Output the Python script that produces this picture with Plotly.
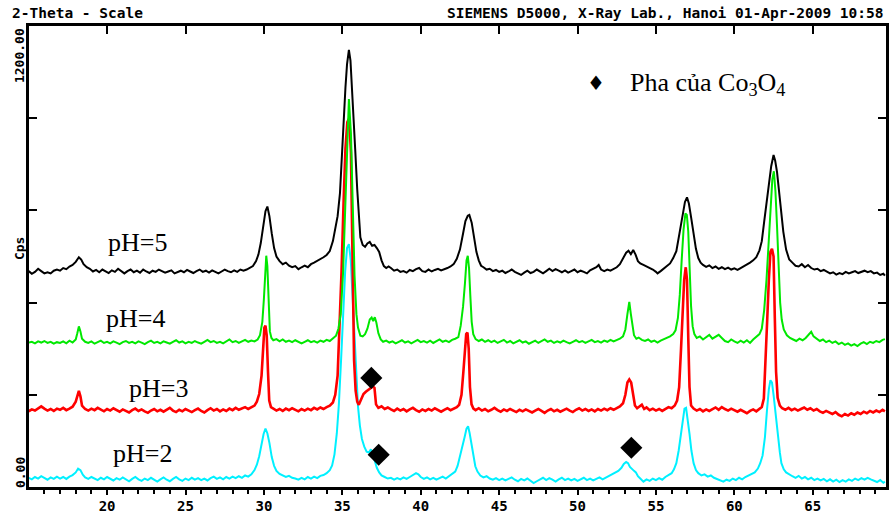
import plotly.graph_objects as go

# ---------------- data ----------------
theta_ph5 = [15.0,15.2,15.4,15.6,15.8,16.0,16.2,16.4,16.6,16.8,17.0,17.2,17.4,17.6,17.8,18.0,18.2,18.35,18.5,18.7,18.9,19.1,19.3,19.5,19.7,19.9,20.1,20.3,20.5,20.7,20.9,21.1,21.3,21.5,21.7,21.9,22.1,22.3,22.5,22.7,22.9,23.1,23.3,23.5,23.7,23.9,24.1,24.3,24.5,24.7,24.9,25.1,25.3,25.5,25.7,25.9,26.1,26.3,26.5,26.7,26.9,27.1,27.3,27.5,27.7,27.9,28.1,28.3,28.5,28.7,28.9,29.1,29.3,29.5,29.65,29.8,29.95,30.1,30.22,30.35,30.5,30.65,30.8,31.0,31.2,31.4,31.6,31.8,32.0,32.2,32.4,32.6,32.8,33.0,33.2,33.4,33.6,33.8,34.0,34.2,34.4,34.55,34.7,34.85,35.0,35.1,35.2,35.3,35.42,35.52,35.62,35.72,35.82,35.95,36.05,36.15,36.3,36.45,36.6,36.75,36.9,37.05,37.2,37.35,37.5,37.65,37.8,37.95,38.1,38.3,38.5,38.7,38.9,39.1,39.3,39.5,39.7,39.9,40.1,40.3,40.5,40.7,40.9,41.1,41.3,41.5,41.7,41.9,42.1,42.3,42.5,42.7,42.85,43.0,43.1,43.25,43.4,43.55,43.7,43.85,44.0,44.2,44.4,44.6,44.8,45.0,45.2,45.4,45.6,45.8,46.0,46.2,46.4,46.6,46.8,47.0,47.2,47.4,47.6,47.8,48.0,48.2,48.4,48.6,48.8,49.0,49.2,49.4,49.6,49.8,50.0,50.2,50.4,50.6,50.8,51.0,51.2,51.35,51.5,51.7,51.9,52.1,52.3,52.5,52.7,52.9,53.1,53.25,53.4,53.55,53.7,53.85,54.0,54.2,54.4,54.6,54.8,55.0,55.1,55.3,55.5,55.7,55.9,56.1,56.3,56.5,56.7,56.85,56.98,57.1,57.25,57.4,57.55,57.7,57.85,58.0,58.2,58.4,58.6,58.8,59.0,59.2,59.4,59.6,59.8,60.0,60.2,60.4,60.6,60.8,61.0,61.2,61.4,61.6,61.75,61.9,62.05,62.2,62.35,62.5,62.6,62.72,62.85,62.98,63.12,63.3,63.5,63.7,63.9,64.1,64.3,64.5,64.7,64.9,65.1,65.3,65.5,65.7,65.9,66.1,66.3,66.5,66.7,66.9,67.1,67.3,67.5,67.7,67.9,68.1,68.3,68.5,68.7,68.9,69.1,69.3,69.5,69.6]
cps_ph5 = [562,555,560,568,562,556,559,556,563,566,563,570,567,574,578,586,598,592,580,572,568,561,565,559,566,562,557,564,560,568,561,556,562,566,559,563,558,566,561,557,563,560,566,562,558,561,564,556,560,563,559,565,561,557,562,566,560,563,558,564,560,556,561,566,562,559,564,560,566,563,566,570,575,588,605,635,680,718,730,705,660,622,600,588,580,584,576,572,575,567,572,576,572,580,584,588,592,598,604,614,640,668,705,765,890,975,1040,1100,1138,1110,1040,960,880,775,695,650,630,625,634,638,628,630,622,612,590,575,570,574,570,563,566,560,562,558,565,562,567,570,562,560,566,561,565,568,564,566,570,574,580,594,618,660,692,706,708,688,650,612,590,576,572,566,568,562,565,560,563,557,561,566,560,556,552,558,563,557,560,566,561,556,562,568,562,567,563,559,564,558,562,566,559,563,560,556,564,568,572,578,566,562,566,563,568,572,580,596,610,615,606,617,605,588,582,578,574,571,566,560,556,562,568,574,582,596,614,660,714,742,754,738,700,655,620,596,584,578,573,577,570,574,568,572,567,571,566,569,565,570,574,578,584,590,598,616,640,690,740,790,835,864,850,820,770,720,665,618,592,584,576,574,580,572,578,570,566,568,562,565,560,556,559,553,557,554,560,556,559,562,557,560,563,559,562,556,558,552,555,550]

theta_ph4 = [15.0,15.2,15.4,15.6,15.8,16.0,16.2,16.4,16.6,16.8,17.0,17.2,17.4,17.6,17.8,18.0,18.1,18.2,18.3,18.4,18.6,18.8,19.0,19.2,19.4,19.6,19.8,20.0,20.2,20.4,20.6,20.8,21.0,21.2,21.4,21.6,21.8,22.0,22.2,22.4,22.6,22.8,23.0,23.2,23.4,23.6,23.8,24.0,24.2,24.4,24.6,24.8,25.0,25.2,25.4,25.6,25.8,26.0,26.2,26.4,26.6,26.8,27.0,27.2,27.4,27.6,27.8,28.0,28.2,28.4,28.6,28.8,29.0,29.2,29.4,29.6,29.75,29.9,30.0,30.08,30.15,30.22,30.3,30.38,30.48,30.6,30.8,31.0,31.2,31.4,31.6,31.8,32.0,32.2,32.4,32.6,32.8,33.0,33.2,33.4,33.6,33.8,34.0,34.2,34.4,34.6,34.75,34.9,35.05,35.18,35.3,35.42,35.55,35.66,35.78,35.9,36.0,36.15,36.3,36.45,36.6,36.75,36.87,36.97,37.07,37.17,37.3,37.45,37.6,37.8,38.0,38.2,38.4,38.6,38.8,39.0,39.2,39.4,39.6,39.8,40.0,40.2,40.4,40.6,40.8,41.0,41.2,41.4,41.6,41.8,42.0,42.2,42.4,42.55,42.7,42.82,42.92,43.0,43.08,43.16,43.25,43.35,43.5,43.7,43.9,44.1,44.3,44.5,44.7,44.9,45.1,45.3,45.5,45.7,45.9,46.1,46.3,46.5,46.7,46.9,47.1,47.3,47.5,47.7,47.9,48.1,48.3,48.5,48.7,48.9,49.1,49.3,49.5,49.7,49.9,50.1,50.3,50.5,50.7,50.9,51.1,51.3,51.5,51.7,51.9,52.1,52.3,52.5,52.7,52.9,53.05,53.18,53.3,53.4,53.5,53.6,53.75,53.9,54.1,54.3,54.5,54.7,54.9,55.1,55.3,55.5,55.7,55.9,56.1,56.25,56.4,56.52,56.64,56.76,56.88,56.97,57.06,57.15,57.24,57.34,57.45,57.6,57.8,58.0,58.2,58.4,58.6,58.8,59.0,59.2,59.4,59.6,59.8,60.0,60.2,60.4,60.6,60.8,61.0,61.2,61.4,61.6,61.75,61.9,62.05,62.18,62.3,62.42,62.52,62.62,62.72,62.82,62.92,63.02,63.15,63.35,63.55,63.75,63.95,64.15,64.35,64.55,64.75,64.9,65.05,65.25,65.45,65.65,65.85,66.05,66.25,66.45,66.65,66.85,67.05,67.25,67.45,67.65,67.85,68.05,68.25,68.45,68.65,68.85,69.05,69.25,69.45,69.6]
cps_ph4 = [376,378,374,379,376,380,375,378,373,377,375,379,374,381,376,384,400,418,405,386,378,375,379,373,377,381,375,378,374,379,376,372,377,380,375,378,374,379,376,372,377,381,375,378,374,379,376,373,378,382,376,379,374,378,375,380,376,373,378,383,377,380,375,378,374,379,384,377,380,375,379,383,378,381,379,384,395,430,490,560,602,575,470,405,388,382,385,379,384,378,381,377,382,379,374,378,382,377,380,376,381,378,383,380,386,394,412,450,560,720,900,1010,920,730,550,450,415,394,392,398,412,436,441,432,442,428,400,384,378,381,376,379,374,378,382,376,379,374,378,383,377,380,376,381,375,379,384,378,381,377,383,386,390,420,470,530,590,602,570,500,430,398,385,380,384,378,382,377,381,375,379,383,376,380,374,378,382,376,379,373,377,381,375,379,384,378,381,375,379,376,381,377,374,378,382,377,380,375,379,383,377,380,376,381,378,383,379,382,386,392,410,450,482,450,420,395,386,389,383,380,384,378,381,376,381,384,388,392,398,408,440,500,590,670,712,708,665,560,470,418,398,388,392,384,389,396,386,392,396,388,380,377,384,379,375,381,376,382,375,384,390,398,412,460,540,630,730,800,822,770,680,570,480,436,410,395,388,384,380,386,382,388,396,404,392,385,380,384,377,381,375,379,372,376,370,374,368,372,367,373,377,372,378,375,380,377,383,385]

theta_ph3 = [15.0,15.2,15.4,15.6,15.8,16.0,16.2,16.4,16.6,16.8,17.0,17.2,17.4,17.6,17.8,18.0,18.1,18.2,18.3,18.4,18.6,18.8,19.0,19.2,19.4,19.6,19.8,20.0,20.2,20.4,20.6,20.8,21.0,21.2,21.4,21.6,21.8,22.0,22.2,22.4,22.6,22.8,23.0,23.2,23.4,23.6,23.8,24.0,24.2,24.4,24.6,24.8,25.0,25.2,25.4,25.6,25.8,26.0,26.2,26.4,26.6,26.8,27.0,27.2,27.4,27.6,27.8,28.0,28.2,28.4,28.6,28.8,29.0,29.2,29.4,29.55,29.7,29.85,29.95,30.03,30.1,30.18,30.26,30.34,30.45,30.6,30.8,31.0,31.2,31.4,31.6,31.8,32.0,32.2,32.4,32.6,32.8,33.0,33.2,33.4,33.6,33.8,34.0,34.2,34.4,34.55,34.7,34.82,34.95,35.08,35.2,35.32,35.44,35.55,35.65,35.75,35.85,35.95,36.05,36.2,36.35,36.5,36.65,36.8,36.95,37.05,37.15,37.3,37.5,37.7,37.9,38.1,38.3,38.5,38.7,38.9,39.1,39.3,39.5,39.7,39.9,40.1,40.3,40.5,40.7,40.9,41.1,41.3,41.5,41.7,41.9,42.1,42.3,42.45,42.6,42.72,42.82,42.9,42.98,43.06,43.14,43.24,43.36,43.5,43.7,43.9,44.1,44.3,44.5,44.7,44.9,45.1,45.3,45.5,45.7,45.9,46.1,46.3,46.5,46.7,46.9,47.1,47.3,47.5,47.7,47.9,48.1,48.3,48.5,48.7,48.9,49.1,49.3,49.5,49.7,49.9,50.1,50.3,50.5,50.7,50.9,51.1,51.3,51.5,51.7,51.9,52.1,52.3,52.5,52.7,52.9,53.05,53.18,53.3,53.42,53.54,53.66,53.8,53.95,54.1,54.25,54.4,54.6,54.8,55.0,55.2,55.4,55.6,55.8,56.0,56.2,56.35,56.48,56.6,56.7,56.8,56.9,56.98,57.06,57.14,57.24,57.4,57.6,57.8,58.0,58.2,58.4,58.6,58.8,59.0,59.2,59.4,59.6,59.8,60.0,60.2,60.4,60.6,60.8,61.0,61.2,61.4,61.6,61.75,61.88,62.0,62.1,62.2,62.3,62.4,62.5,62.58,62.66,62.76,62.9,63.05,63.25,63.45,63.65,63.85,64.05,64.25,64.45,64.65,64.85,65.05,65.25,65.45,65.65,65.85,66.05,66.25,66.45,66.65,66.85,67.05,67.25,67.45,67.65,67.85,68.05,68.25,68.45,68.65,68.85,69.05,69.25,69.45,69.6]
cps_ph3 = [197,202,199,205,210,204,199,203,198,204,201,206,200,204,209,222,238,250,236,212,203,199,204,200,206,201,197,203,199,205,200,196,202,198,194,200,204,198,202,197,193,199,203,197,201,196,202,206,199,195,201,197,203,199,195,200,204,198,194,200,205,199,203,197,202,198,204,200,206,201,205,208,203,207,212,222,242,290,360,415,420,395,300,225,208,204,199,203,198,204,200,205,201,197,203,199,204,200,206,202,207,203,208,212,220,240,290,400,560,740,880,950,960,870,600,330,250,222,214,230,242,248,252,258,262,258,215,206,210,203,207,202,198,204,199,203,197,202,206,200,196,202,198,203,199,205,200,196,201,205,200,204,208,214,240,300,370,398,402,360,260,215,204,200,205,199,203,197,201,206,200,196,202,198,203,199,195,201,197,202,198,194,199,203,198,193,199,203,197,201,196,200,204,199,195,201,205,199,203,198,202,197,203,199,204,200,205,201,206,210,218,240,272,280,272,240,212,205,210,214,203,207,200,204,199,203,198,204,208,205,212,225,260,360,460,540,572,540,390,260,212,204,199,203,197,202,198,203,207,201,208,203,199,204,200,196,201,197,192,198,202,197,203,208,230,330,440,540,612,620,600,440,300,232,212,205,201,206,200,204,199,203,207,201,205,199,203,197,193,198,194,190,195,188,184,190,186,192,188,194,190,196,192,198,194,199,195,201,197]

theta_ph2 = [15.0,15.2,15.4,15.6,15.8,16.0,16.2,16.4,16.6,16.8,17.0,17.2,17.4,17.6,17.8,18.0,18.15,18.3,18.45,18.6,18.8,19.0,19.2,19.4,19.6,19.8,20.0,20.2,20.4,20.6,20.8,21.0,21.2,21.4,21.6,21.8,22.0,22.2,22.4,22.6,22.8,23.0,23.2,23.4,23.6,23.8,24.0,24.2,24.4,24.6,24.8,25.0,25.2,25.4,25.6,25.8,26.0,26.2,26.4,26.6,26.8,27.0,27.2,27.4,27.6,27.8,28.0,28.2,28.4,28.6,28.8,29.0,29.2,29.4,29.55,29.7,29.85,29.98,30.1,30.22,30.35,30.5,30.65,30.8,31.0,31.2,31.4,31.6,31.8,32.0,32.2,32.4,32.6,32.8,33.0,33.2,33.4,33.6,33.8,34.0,34.2,34.35,34.5,34.65,34.78,34.92,35.05,35.18,35.3,35.42,35.54,35.65,35.76,35.88,36.0,36.12,36.25,36.4,36.55,36.7,36.82,36.94,37.06,37.2,37.35,37.5,37.7,37.9,38.1,38.3,38.5,38.7,38.9,39.1,39.3,39.5,39.7,39.85,40.0,40.2,40.4,40.6,40.8,41.0,41.2,41.4,41.6,41.8,42.0,42.2,42.35,42.5,42.65,42.8,42.92,43.02,43.12,43.24,43.36,43.48,43.62,43.8,44.0,44.2,44.4,44.6,44.8,45.0,45.2,45.4,45.6,45.8,46.0,46.2,46.4,46.6,46.8,47.0,47.2,47.4,47.6,47.8,48.0,48.2,48.4,48.6,48.8,49.0,49.2,49.4,49.6,49.8,50.0,50.2,50.4,50.6,50.8,51.0,51.2,51.4,51.6,51.8,52.0,52.2,52.4,52.6,52.8,52.95,53.1,53.22,53.34,53.46,53.6,53.72,53.85,54.0,54.2,54.4,54.6,54.8,55.0,55.2,55.4,55.6,55.8,56.0,56.15,56.3,56.45,56.58,56.7,56.82,56.92,57.02,57.14,57.26,57.4,57.55,57.7,57.9,58.1,58.3,58.5,58.7,58.9,59.1,59.3,59.5,59.7,59.9,60.1,60.3,60.5,60.7,60.9,61.1,61.3,61.5,61.65,61.8,61.95,62.08,62.2,62.3,62.4,62.5,62.6,62.7,62.8,62.9,63.0,63.15,63.3,63.5,63.7,63.9,64.1,64.3,64.5,64.7,64.9,65.1,65.3,65.5,65.7,65.9,66.1,66.3,66.5,66.7,66.9,67.1,67.3,67.5,67.7,67.9,68.1,68.3,68.5,68.7,68.9,69.1,69.3,69.5,69.6]
cps_ph2 = [24,20,26,22,28,23,19,25,21,27,22,26,21,27,31,38,48,44,32,25,21,26,22,18,24,20,26,21,17,23,19,25,20,15,21,26,20,16,22,18,24,19,14,20,25,19,15,21,26,20,16,22,18,24,19,23,18,22,17,23,27,21,25,20,26,22,27,23,28,24,30,27,33,44,58,80,110,138,152,140,115,78,55,42,34,30,26,29,24,22,19,24,20,26,22,27,23,29,31,36,44,56,85,140,215,330,450,560,622,632,590,500,400,300,210,160,125,105,92,90,98,86,68,50,38,30,26,22,24,19,23,20,25,21,26,30,36,33,26,21,25,20,24,19,23,27,22,28,33,40,55,78,105,130,152,158,140,110,78,54,40,30,25,28,22,19,23,18,22,17,21,25,19,15,21,17,22,16,10,15,20,24,18,23,19,14,20,24,18,22,17,21,16,20,24,18,22,17,21,25,20,24,28,32,36,42,50,60,65,62,52,46,42,38,28,22,14,20,16,22,18,23,19,26,30,36,46,62,95,138,180,204,206,180,138,95,62,44,36,30,33,27,30,24,20,17,14,19,16,22,18,24,20,26,30,34,38,48,62,82,130,200,255,278,272,240,200,160,122,90,62,46,38,32,28,24,29,22,26,20,24,18,22,17,21,15,20,14,19,13,18,14,20,16,22,18,23,19,24,20,17,13,18,11,14]

# Co3O4 phase markers (2-theta, cps)
marker_theta = [36.85, 37.32, 53.43]
marker_cps = [284, 84, 102]

series_labels = ["pH=5", "pH=4", "pH=3", "pH=2"]
x_tick_values = [20, 25, 30, 35, 40, 45, 50, 55, 60, 65]
y_tick_values = [240, 480, 720, 960]

# ---------------- figure ----------------
W, H = 891, 516
ML, MR, MT, MB = 29, 2, 26, 29
PW, PH = W - ML - MR, H - MT - MB


def px_x(px):
    return (px - ML) / PW


def px_y(py):
    return (H - MB - py) / PH


fig = go.Figure()
traces = [
    (theta_ph2, cps_ph2, "#00f0ff", 2.0),
    (theta_ph3, cps_ph3, "#ff0000", 2.6),
    (theta_ph4, cps_ph4, "#00e800", 2.0),
    (theta_ph5, cps_ph5, "#000000", 2.0),
]
for xs, ys, col, w in traces:
    fig.add_trace(go.Scatter(x=xs, y=ys, mode="lines",
                             line=dict(color=col, width=w, shape="linear"),
                             showlegend=False, hoverinfo="skip"))

fig.add_trace(go.Scatter(x=marker_theta, y=marker_cps, mode="markers",
                         marker=dict(symbol="diamond", size=17, color="black",
                                     line=dict(width=0)),
                         showlegend=False, hoverinfo="skip"))

mono = "DejaVu Sans Mono"
serif = "Liberation Serif, Times New Roman, serif"

fig.update_layout(
    width=W, height=H,
    margin=dict(l=ML, r=MR, t=MT, b=MB, pad=0),
    paper_bgcolor="white", plot_bgcolor="white",
    xaxis=dict(range=[15.02, 69.67], showgrid=False, zeroline=False,
               showline=True, linecolor="black", linewidth=2.5, mirror=True,
               tickmode="array", tickvals=x_tick_values,
               ticktext=[str(v) for v in x_tick_values],
               ticks="outside", ticklen=5, tickwidth=2, tickcolor="black",
               minor=dict(dtick=1, tick0=15, ticks="outside", ticklen=4,
                          tickwidth=2, tickcolor="black", showgrid=False),
               tickfont=dict(family=mono, size=14, color="black", weight="bold"),
               ticklabelstandoff=-1),
    xaxis2=dict(range=[15.02, 69.67], overlaying="x", side="top",
                showgrid=False, zeroline=False, showline=False,
                tickmode="array", tickvals=x_tick_values,
                ticks="inside", ticklen=8, tickwidth=2, tickcolor="black",
                showticklabels=False),
    yaxis=dict(range=[0, 1200], showgrid=False, zeroline=False,
               showline=True, linecolor="black", linewidth=2.5, mirror="ticks",
               tickmode="array", tickvals=y_tick_values,
               ticks="inside", ticklen=8, tickwidth=2, tickcolor="black",
               showticklabels=False),
)
# invisible trace so that the top axis is drawn
fig.add_trace(go.Scatter(x=[20], y=[0], xaxis="x2", mode="markers",
                         marker=dict(opacity=0), showlegend=False, hoverinfo="skip"))

ann = []
# header texts
ann.append(dict(text="2-Theta - Scale", x=px_x(10), y=px_y(12.5), xref="paper", yref="paper",
                xanchor="left", yanchor="middle", showarrow=False,
                font=dict(family=mono, size=14.5, color="black", weight="bold")))
ann.append(dict(text="SIEMENS D5000, X-Ray Lab., Hanoi 01-Apr-2009 10:58", x=px_x(889), y=px_y(12.5),
                xref="paper", yref="paper", xanchor="right", yanchor="middle", showarrow=False,
                font=dict(family=mono, size=14.5, color="black", weight="bold")))
# y-axis labels (vertical)
for txt, py in [("1200.00", 56), ("Cps", 249), ("0.00", 473)]:
    ann.append(dict(text=txt, x=px_x(20), y=px_y(py), xref="paper", yref="paper",
                    xanchor="center", yanchor="middle", textangle=-90, showarrow=False,
                    font=dict(family=mono, size=13, color="black", weight="bold")))
# series labels
for txt, (px, py) in zip(series_labels, [(106, 242), (104, 318), (127, 388), (111, 453)]):
    ann.append(dict(text=txt, x=px_x(px), y=px_y(py), xref="paper", yref="paper",
                    xanchor="left", yanchor="middle", showarrow=False,
                    font=dict(family=serif, size=26, color="black")))
# legend
ann.append(dict(text="♦", x=px_x(598), y=px_y(83), xref="paper", yref="paper",
                xanchor="center", yanchor="middle", showarrow=False,
                font=dict(family="DejaVu Sans", size=20, color="black")))
ann.append(dict(text="Pha của Co<sub>3</sub>O<sub>4</sub>", x=px_x(630), y=px_y(84),
                xref="paper", yref="paper", xanchor="left", yanchor="middle", showarrow=False,
                font=dict(family=serif, size=26, color="black")))
fig.update_layout(annotations=ann)

fig.write_html("out.html", config={"displayModeBar": False},
               post_script="document.body.style.margin='0';")
